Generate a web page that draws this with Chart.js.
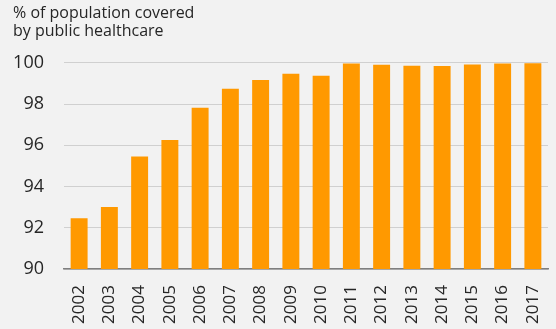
<!DOCTYPE html>
<html>
<head>
<meta charset="utf-8">
<script src="https://cdn.jsdelivr.net/npm/chart.js@4/dist/chart.umd.min.js"></script>
<style>
  html, body { margin: 0; padding: 0; background: #f2f2f2; }
  #wrap { width: 556px; height: 329px; }
</style>
</head>
<body>
<div id="wrap"><canvas id="c" width="556" height="329"></canvas></div>
<script>
const categories = ["2002","2003","2004","2005","2006","2007","2008","2009","2010","2011","2012","2013","2014","2015","2016","2017"];
const coverage = [92.46, 93.01, 95.45, 96.26, 97.82, 98.74, 99.16, 99.47, 99.37, 99.97, 99.9, 99.86, 99.85, 99.92, 99.97, 99.98];
const yTicks = [90, 92, 94, 96, 98, 100];
const titleLines = ["% of population covered", "by public healthcare"];

new Chart(document.getElementById('c'), {
  type: 'bar',
  data: {
    labels: categories,
    datasets: [{
      data: coverage,
      backgroundColor: '#ff9900',
      borderWidth: 0,
      barPercentage: 0.56,
      categoryPercentage: 1.0
    }]
  },
  options: {
    responsive: false,
    animation: false,
    layout: { padding: { left: 13, right: 8, top: 4, bottom: 4 } },
    plugins: {
      legend: { display: false },
      tooltip: { enabled: false },
      title: {
        display: true,
        text: titleLines,
        align: 'start',
        color: '#262626',
        font: { family: 'Open Sans', size: 16, weight: 'normal', lineHeight: 1.15 },
        padding: { top: 0, bottom: 22 }
      }
    },
    scales: {
      x: {
        grid: { display: false, drawTicks: false },
        border: { display: true, color: '#7f7f7f', width: 1.5 },
        ticks: {
          color: '#262626',
          font: { family: 'Open Sans', size: 17 },
          minRotation: 90, maxRotation: 90,
          padding: 16,
          autoSkip: false
        },
        afterFit: (s) => { s.paddingLeft = 0; s.paddingRight = 0; s.height = 56; }
      },
      y: {
        min: 90, max: 100,
        afterBuildTicks: (axis) => { axis.ticks = yTicks.map(v => ({ value: v })); },
        grid: { color: '#d0d0d0', lineWidth: 1, drawTicks: false },
        border: { display: false },
        ticks: {
          color: '#262626',
          font: { family: 'Open Sans', size: 18 },
          padding: 20
        },
        afterFit: (s) => { s.width = 51; }
      }
    }
  }
});
</script>
</body>
</html>
